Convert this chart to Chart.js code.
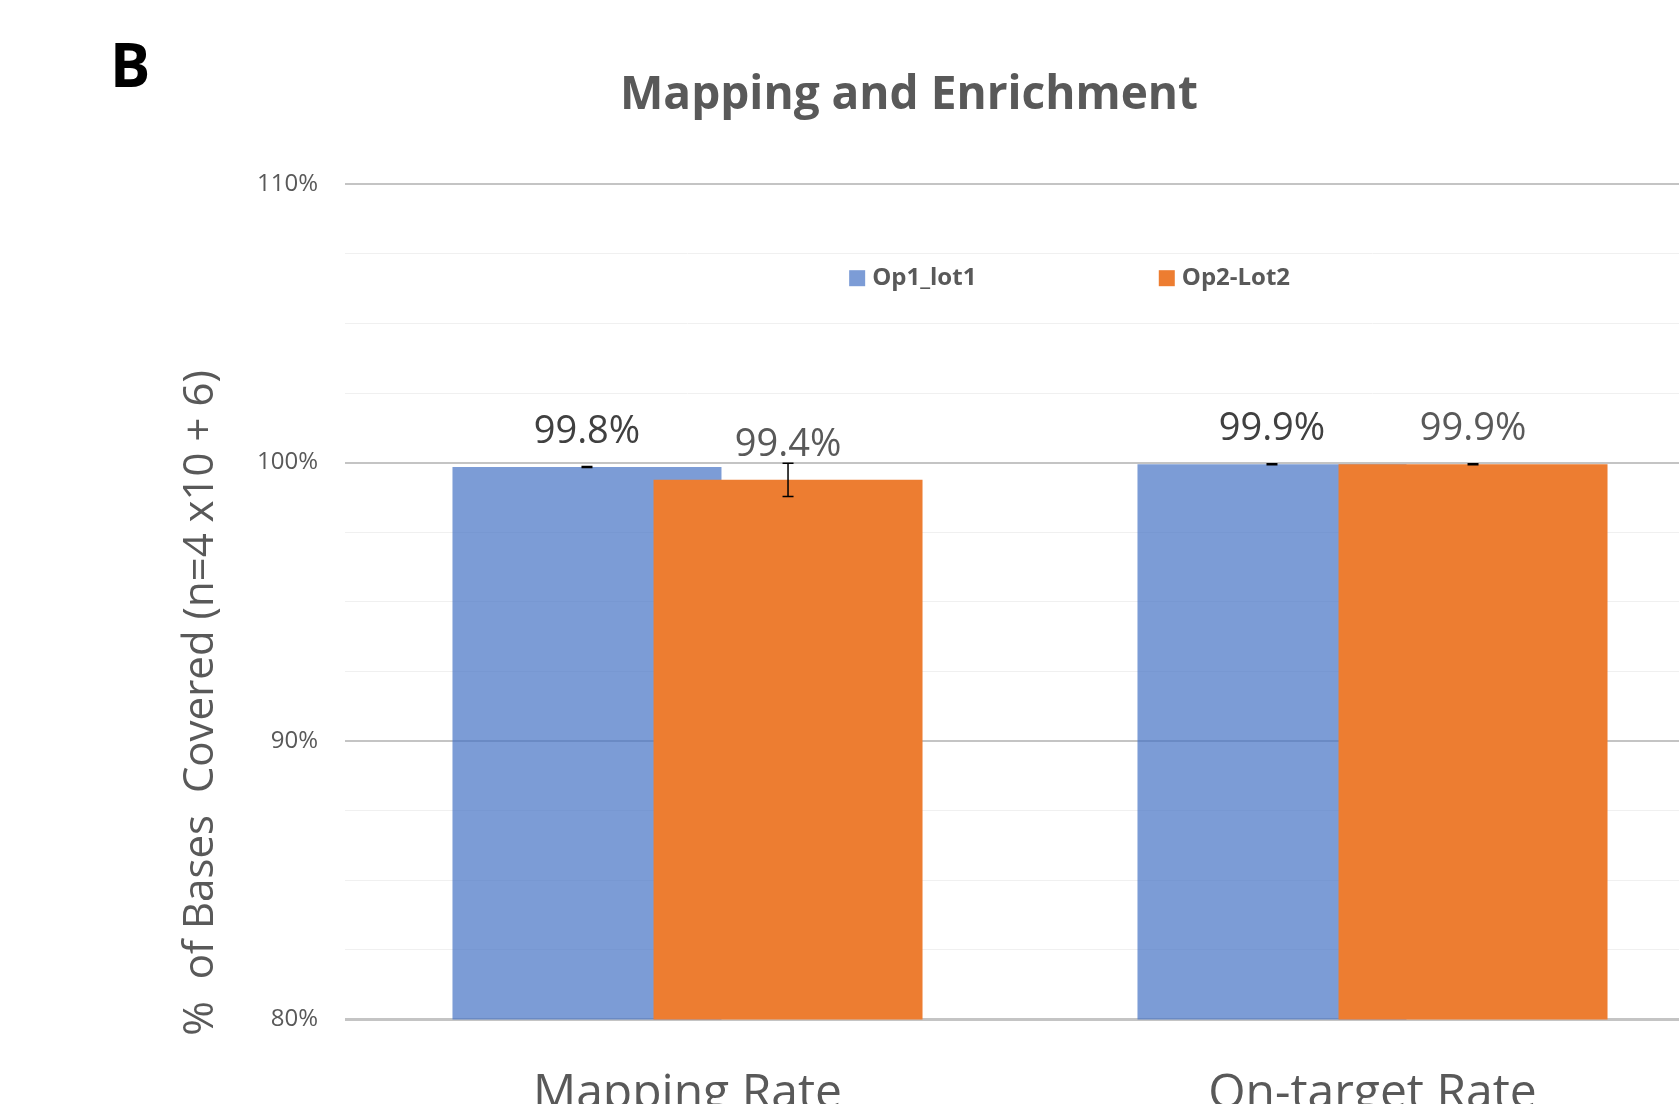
<!DOCTYPE html>
<html>
<head>
<meta charset="utf-8">
<script src="https://cdn.jsdelivr.net/npm/chart.js@4.4.1/dist/chart.umd.min.js"></script>
<style>
  html, body { margin: 0; padding: 0; background: #fff; overflow: hidden; }
  #wrap { width: 1715px; height: 1176px; }
</style>
</head>
<body>
<div id="wrap"><canvas id="chart" width="1715" height="1176"></canvas></div>
<script>
const categories = ['Mapping Rate', 'On-target Rate']
const seriesNames = ['Op1_lot1', 'Op2-Lot2']
const op1Values = [99.84, 99.94]
const op2Values = [99.38, 99.94]
const op1Errors = [0.02, 0.02]
const op2Errors = [0.6, 0.02]
const yTicks = [80, 90, 100, 110]

const grey = '#595959'
const fontFamily = "'Open Sans', 'DejaVu Sans', sans-serif"

// Chart.js paints the first dataset last; the first series has to sit under the second
const drawBehind = {
  id: 'drawBehind',
  beforeDatasetsDraw (chart) {
    const ctx = chart.ctx
    const a = chart.chartArea
    ctx.save()
    ctx.beginPath()
    ctx.rect(a.left, a.top, a.right - a.left, a.bottom - a.top)
    ctx.clip()
    chart.getDatasetMeta(0).controller.draw()
    ctx.restore()
  },
  beforeDatasetDraw (chart, args) {
    if (args.index === 0) return false
  }
}

// labels above each bar, coloured per series
const valueLabels = {
  id: 'valueLabels',
  afterDatasetsDraw (chart) {
    const ctx = chart.ctx
    ctx.save()
    ctx.font = `38px ${fontFamily}`
    ctx.textAlign = 'center'
    ctx.textBaseline = 'middle'
    chart.data.datasets.forEach((ds, i) => {
      chart.getDatasetMeta(i).data.forEach((bar, j) => {
        ctx.fillStyle = ds.labelColor
        ctx.fillText(ds.data[j].toFixed(1) + '%', bar.x, bar.y - 35)
      })
    })
    ctx.restore()
  }
}

const errorBars = {
  id: 'errorBars',
  afterDatasetsDraw (chart) {
    const ctx = chart.ctx
    const y = chart.scales.y
    ctx.save()
    ctx.strokeStyle = '#000'
    ctx.lineWidth = 1.5
    chart.data.datasets.forEach((ds, i) => {
      chart.getDatasetMeta(i).data.forEach((bar, j) => {
        const v = ds.data[j]
        const e = ds.errors[j]
        const top = y.getPixelForValue(v + e)
        const bot = y.getPixelForValue(v - e)
        ctx.beginPath()
        ctx.moveTo(bar.x, top); ctx.lineTo(bar.x, bot)
        ctx.moveTo(bar.x - 5.5, top); ctx.lineTo(bar.x + 5.5, top)
        ctx.moveTo(bar.x - 5.5, bot); ctx.lineTo(bar.x + 5.5, bot)
        ctx.stroke()
      })
    })
    ctx.restore()
  }
}

// legend sits inside the plot area, Excel style
const innerLegend = {
  id: 'innerLegend',
  afterDraw (chart) {
    const ctx = chart.ctx
    const area = chart.chartArea
    const xs = [0.368, 0.594]
    const yMid = area.top + 94
    ctx.save()
    ctx.font = `bold 24px ${fontFamily}`
    ctx.textBaseline = 'middle'
    chart.data.datasets.forEach((ds, i) => {
      const x = area.left + xs[i] * (area.right - area.left)
      ctx.fillStyle = ds.backgroundColor
      ctx.fillRect(x, yMid - 8, 16, 16)
      ctx.fillStyle = grey
      ctx.fillText(ds.label, x + 23, yMid)
    })
    ctx.restore()
  }
}

const extraText = {
  id: 'extraText',
  afterDraw (chart) {
    const ctx = chart.ctx
    ctx.save()
    ctx.fillStyle = '#000'
    ctx.font = `bold 60px ${fontFamily}`
    ctx.textBaseline = 'alphabetic'
    ctx.fillText('B', 110, 87)

    ctx.translate(201, 703)
    ctx.rotate(-Math.PI / 2)
    ctx.fillStyle = grey
    ctx.font = `42px ${fontFamily}`
    ctx.textAlign = 'center'
    ctx.textBaseline = 'middle'
    ctx.fillText('%  of Bases  Covered (n=4 x10 + 6)', 0, 0)
    ctx.restore()
  }
}

new Chart(document.getElementById('chart'), {
  type: 'bar',
  data: {
    labels: categories,
    datasets: [
      {
        label: seriesNames[0],
        data: op1Values,
        errors: op1Errors,
        backgroundColor: 'rgba(68, 114, 196, 0.7)',
        labelColor: '#404040',
        categoryPercentage: 0.587,
        barPercentage: 1.338
      },
      {
        label: seriesNames[1],
        data: op2Values,
        errors: op2Errors,
        backgroundColor: '#ED7D31',
        labelColor: grey,
        categoryPercentage: 0.587,
        barPercentage: 1.338
      }
    ]
  },
  options: {
    responsive: false,
    devicePixelRatio: 1,
    animation: false,
    layout: { padding: { left: 103, right: 0, top: 0, bottom: 15 } },
    plugins: {
      legend: { display: false },
      tooltip: { enabled: false },
      title: {
        display: true,
        text: 'Mapping and Enrichment',
        color: grey,
        font: { family: fontFamily, size: 46, weight: 'bold' },
        padding: { top: 68, bottom: 61 }
      }
    },
    scales: {
      x: {
        grid: { display: false },
        border: { display: false },
        ticks: {
          color: grey,
          padding: 38,
          font: { family: fontFamily, size: 48 }
        }
      },
      y: {
        min: 80,
        max: 110,
        border: { display: false },
        afterFit (scale) { scale.width = 242 },
        grid: {
          drawTicks: false,
          color: (c) => yTicks.includes(c.tick.value) ? '#c4c4c4' : '#f0f0f0',
          lineWidth: (c) => c.tick.value === 80 ? 3 : (yTicks.includes(c.tick.value) ? 2 : 1)
        },
        ticks: {
          stepSize: 2.5,
          padding: 27,
          color: grey,
          font: { family: fontFamily, size: 24 },
          callback: (v) => yTicks.includes(v) ? v + '%' : ''
        }
      }
    }
  },
  plugins: [drawBehind, errorBars, valueLabels, innerLegend, extraText]
})
</script>
</body>
</html>
